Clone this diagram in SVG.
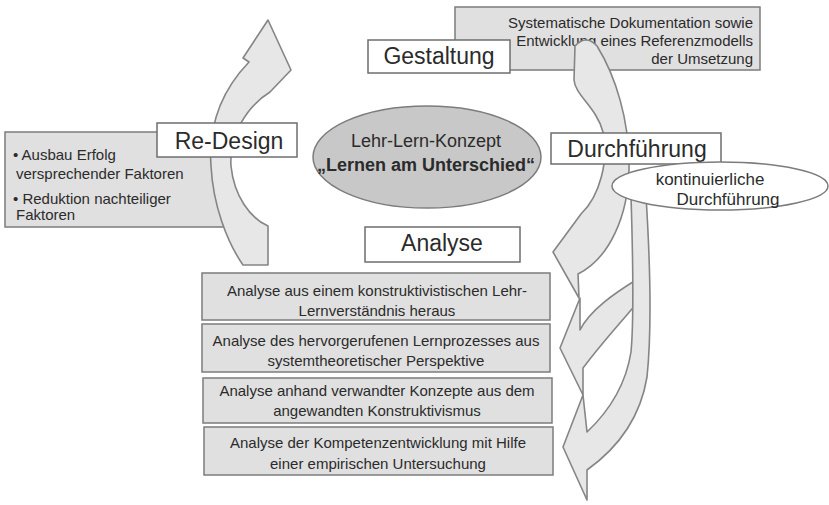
<svg xmlns="http://www.w3.org/2000/svg" width="829" height="505" viewBox="0 0 829 505">
<style>
text{font-family:"Liberation Sans",Arial,sans-serif;fill:#2b2b2b}
.gbox{fill:#e0e0e0;stroke:#7c7c7c;stroke-width:1.5}
.wbox{fill:#ffffff;stroke:#6e6e6e;stroke-width:1.5}
.arr{fill:#e7e7e7;stroke:#858585;stroke-width:1.6;stroke-linejoin:round}
.h{font-size:23px}
.s{font-size:15px}
.m{font-size:18px}
.c{text-anchor:middle}
</style>
<rect width="829" height="505" fill="#ffffff"/>
<g id="doku">
<rect class="gbox" x="455" y="7" width="305" height="63"/>
<text class="s" x="753" y="28" text-anchor="end">Systematische Dokumentation sowie</text>
<text class="s" x="753" y="46" text-anchor="end">Entwicklung eines Referenzmodells</text>
<text class="s" x="753" y="64" text-anchor="end">der Umsetzung</text>
</g>
<g id="gestaltung">
<rect class="wbox" x="368" y="40" width="142" height="33"/>
<text class="h c" x="439" y="64">Gestaltung</text>
</g>
<g id="redesign-info">
<rect class="gbox" x="5" y="132" width="222" height="95"/>
<text class="s" x="13" y="160">• Ausbau Erfolg</text>
<text class="s" x="16" y="179">versprechender Faktoren</text>
<text class="s" x="13" y="204">• Reduktion nachteiliger</text>
<text class="s" x="16" y="220">Faktoren</text>
</g>
<g id="connectors">
<path class="arr" d="M268,265 L268,226 C250,218 234,196 231,166 C229,136 246,107 270,92 L291,70 L268,20 L243,58 L249,62 C224,88 208,122 211,166 C213,205 227,242 243,265 Z"/>
<path class="arr" d="M575,46 Q586,34 597,46 C615,75 630,120 629,170 C628,215 610,258 578,274 L579,298 L553,252 L581,214 C600,196 609,160 603,132 C597,108 575,95 574,80 Z"/>
<path class="arr" d="M580,298 L560,348 L583,395 L583,368 C600,345 620,323 638,302 L636,280 C615,293 590,310 580,330 Z"/>
<path class="arr" d="M583,395 L563,447 L587,500 L587,470 C615,450 640,420 647,377 C652,330 650,260 646,196 L631,196 C633,260 634,320 631,352 C625,390 605,415 587,432 Z"/>
</g>
<g id="durchfuehrung">
<rect class="wbox" x="551" y="133" width="170" height="31"/>
<text class="h c" x="637" y="157">Durchführung</text>
</g>
<g id="kontinuierlich">
<ellipse cx="720" cy="186" rx="108" ry="24" fill="#ffffff" stroke="#7c7c7c" stroke-width="1.5"/>
<text x="710" y="185" font-size="17" class="c">kontinuierliche</text>
<text x="728" y="205" font-size="17" class="c">Durchführung</text>
</g>
<g id="redesign">
<rect class="wbox" x="157" y="123" width="140" height="34"/>
<text class="h c" x="229" y="149">Re-Design</text>
</g>
<g id="konzept">
<ellipse cx="427" cy="157" rx="114" ry="51" fill="#c8c8c8" stroke="#7c7c7c" stroke-width="1.5"/>
<text class="m c" x="426" y="147">Lehr-Lern-Konzept</text>
<text class="m c" x="426" y="171" font-weight="bold">„Lernen am Unterschied“</text>
</g>
<g id="analyse">
<rect class="wbox" x="365" y="227" width="155" height="35"/>
<text class="h c" x="442" y="251">Analyse</text>
</g>
<g id="analyse1">
<rect class="gbox" x="202" y="273" width="348" height="47"/>
<text class="s c" x="377" y="296">Analyse aus einem konstruktivistischen Lehr-</text>
<text class="s c" x="377" y="316">Lernverständnis heraus</text>
</g>
<g id="analyse2">
<rect class="gbox" x="202" y="324" width="348" height="48"/>
<text class="s c" x="376" y="346">Analyse des hervorgerufenen Lernprozesses aus</text>
<text class="s c" x="376" y="366">systemtheoretischer Perspektive</text>
</g>
<g id="analyse3">
<rect class="gbox" x="203" y="378" width="349" height="45"/>
<text class="s c" x="377" y="396">Analyse anhand verwandter Konzepte aus dem</text>
<text class="s c" x="377" y="416">angewandten Konstruktivismus</text>
</g>
<g id="analyse4">
<rect class="gbox" x="204" y="427" width="349" height="48"/>
<text class="s c" x="378" y="448">Analyse der Kompetenzentwicklung mit Hilfe</text>
<text class="s c" x="378" y="469">einer empirischen Untersuchung</text>
</g>
</svg>
